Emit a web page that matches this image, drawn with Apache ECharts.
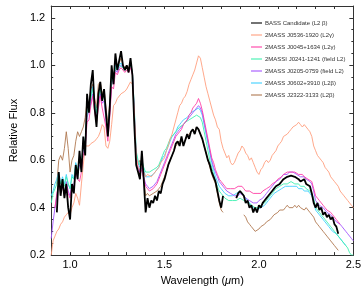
<!DOCTYPE html>
<html><head><meta charset="utf-8">
<script src="https://cdn.jsdelivr.net/npm/echarts@6/dist/echarts.min.js"></script>
<style>html,body{margin:0;padding:0;background:#fff}#c{width:364px;height:291px}</style>
</head><body><div id="c"></div>
<script>
// wavelength grid (µm), 0.90 .. 2.50 step 0.01
const wl = [];
for (let i = 0; i <= 160; i++) wl.push(+(0.90 + i * 0.01).toFixed(2));

const N = null;
const bass = [
 N,N,N,0.38,0.55,0.45,0.52,0.44,0.50,0.40,
 0.35,0.50,0.46,0.58,0.52,0.64,0.55,0.70,0.62,0.88,
 0.80,0.92,0.98,0.82,0.74,0.88,0.93,0.85,0.90,0.80,
 0.70,0.82,1.00,0.92,1.05,0.98,1.02,1.06,1.00,0.98,
 1.00,0.97,1.03,0.96,0.75,0.58,0.55,0.52,0.64,0.52,
 0.38,0.44,0.40,0.43,0.42,0.45,0.43,0.47,0.46,0.50,
 0.52,0.55,0.58,0.60,0.62,0.64,0.67,0.68,0.66,0.70,
 0.66,0.66,0.71,0.69,0.72,0.73,0.71,0.74,0.73,0.71,
 0.69,0.66,0.63,0.60,0.58,0.55,0.53,0.51,0.47,0.43,
 0.40,0.45,N,N,N,N,N,N,0.44,0.46,
 0.47,0.47,0.45,0.42,0.43,0.40,0.41,0.38,0.40,0.38,
 0.41,0.40,0.42,0.43,0.44,0.45,0.45,0.47,0.48,0.49,
 0.49,0.50,0.51,0.52,0.52,0.53,0.53,0.535,0.54,0.53,
 0.525,0.52,0.51,0.51,0.52,0.50,0.50,0.49,0.46,0.42,
 0.40,0.42,0.39,0.40,0.37,0.38,0.36,0.37,0.35,0.36,
 0.33,0.32,0.29,N,N,N,N,N,N,N,
 N];
const j0536 = [
 0.20,0.26,0.28,0.30,0.31,0.33,0.34,0.36,0.37,0.38,
 0.37,0.40,0.42,0.46,0.44,0.41,0.50,0.58,0.66,0.66,
 0.66,0.67,0.67,0.68,0.69,0.70,0.72,0.75,0.74,0.66,
 0.65,0.68,0.75,0.83,0.84,0.86,0.86,0.88,0.88,0.89,
 0.90,0.90,0.93,0.92,0.80,0.62,0.57,0.56,0.58,0.55,
 0.53,0.54,0.54,0.53,0.54,0.55,0.56,0.57,0.59,0.60,
 0.61,0.64,0.66,0.69,0.71,0.74,0.77,0.80,0.83,0.84,
 0.86,0.87,0.89,0.92,0.94,0.96,0.98,1.01,1.04,1.03,
 0.99,0.95,0.91,0.88,0.85,0.82,0.79,0.77,0.74,0.73,
 0.68,0.65,0.63,0.61,0.62,0.59,0.58,0.59,0.61,0.63,
 0.64,0.66,0.65,0.63,0.62,0.60,0.61,0.59,0.57,0.55,
 0.54,0.56,0.57,0.59,0.60,0.59,0.60,0.62,0.63,0.64,
 0.66,0.67,0.68,0.70,0.70,0.71,0.72,0.73,0.74,0.74,
 0.75,0.76,0.75,0.74,0.75,0.74,0.73,0.72,0.70,0.66,
 0.64,0.62,0.61,0.60,0.59,0.57,0.56,0.55,0.53,0.52,
 0.51,0.50,0.49,0.47,0.46,0.45,0.44,0.43,0.42,0.41,
 0.40];
const j0045 = [
 N,N,0.40,0.46,0.50,0.46,0.49,0.45,0.50,0.46,
 0.44,0.49,0.48,0.55,0.52,0.51,0.55,0.62,0.65,0.76,
 0.77,0.83,0.87,0.80,0.76,0.82,0.87,0.82,0.82,0.74,
 0.68,0.78,0.91,0.90,0.97,0.96,0.98,0.99,0.98,0.97,
 0.98,0.97,0.99,0.96,0.80,0.61,0.56,0.54,0.56,0.52,
 0.49,0.48,0.47,0.47,0.48,0.49,0.50,0.52,0.54,0.56,
 0.58,0.60,0.62,0.64,0.66,0.68,0.70,0.71,0.72,0.73,
 0.75,0.76,0.77,0.79,0.80,0.82,0.83,0.84,0.86,0.84,
 0.81,0.77,0.73,0.69,0.65,0.61,0.59,0.56,0.54,0.52,
 0.51,0.50,0.49,0.48,0.48,0.48,0.48,0.48,0.48,0.49,
 0.49,0.49,0.48,0.47,0.47,0.47,0.47,0.46,0.46,0.46,
 0.46,0.46,0.47,0.47,0.48,0.48,0.49,0.50,0.50,0.51,
 0.52,0.52,0.53,0.54,0.54,0.55,0.55,0.55,0.55,0.55,
 0.55,0.54,0.54,0.54,0.53,0.53,0.52,0.52,0.51,0.48,
 0.45,0.44,0.43,0.42,0.41,0.40,0.39,0.39,0.38,0.37,
 0.36,0.35,0.34,0.33,N,N,N,N,N,N,
 N];
const j0241 = [
 0.42,0.46,0.48,0.50,0.54,0.50,0.52,0.49,0.53,0.50,
 0.48,0.53,0.52,0.58,0.56,0.60,0.59,0.66,0.68,0.80,
 0.80,0.86,0.90,0.84,0.80,0.86,0.90,0.86,0.87,0.79,
 0.73,0.82,0.94,0.93,0.99,0.98,1.00,1.00,0.99,0.98,
 0.99,0.98,1.00,0.97,0.82,0.64,0.60,0.58,0.60,0.57,
 0.55,0.55,0.55,0.55,0.56,0.56,0.57,0.58,0.60,0.62,
 0.64,0.65,0.67,0.69,0.70,0.71,0.72,0.73,0.74,0.74,
 0.75,0.76,0.76,0.77,0.77,0.78,0.78,0.79,0.79,0.78,
 0.76,0.72,0.68,0.64,0.60,0.57,0.54,0.51,0.49,0.47,
 0.46,0.45,0.44,0.44,0.43,0.43,0.43,0.43,0.43,0.43,
 0.44,0.44,0.43,0.43,0.42,0.42,0.41,0.41,0.40,0.40,
 0.40,0.41,0.41,0.42,0.43,0.44,0.45,0.46,0.47,0.48,
 0.48,0.49,0.49,0.50,0.50,0.50,0.50,0.51,0.51,0.50,
 0.50,0.50,0.49,0.49,0.49,0.48,0.48,0.47,0.46,0.44,
 0.40,0.40,0.38,0.38,0.36,0.35,0.34,0.33,0.32,0.31,
 0.30,0.29,0.28,0.27,0.26,0.25,0.24,0.23,0.21,0.20,
 0.20];
const j0205 = [
 0.27,0.34,0.40,0.45,0.50,0.47,0.50,0.46,0.51,0.47,
 0.45,0.50,0.49,0.56,0.54,0.58,0.56,0.64,0.66,0.78,
 0.78,0.84,0.88,0.82,0.78,0.84,0.88,0.84,0.85,0.77,
 0.70,0.80,0.92,0.92,0.98,0.97,0.99,1.00,0.99,0.98,
 0.99,0.98,1.00,0.97,0.80,0.62,0.57,0.55,0.57,0.53,
 0.50,0.49,0.48,0.48,0.49,0.50,0.51,0.53,0.55,0.57,
 0.59,0.61,0.63,0.65,0.67,0.69,0.71,0.72,0.73,0.74,
 0.75,0.76,0.77,0.78,0.79,0.80,0.81,0.82,0.83,0.82,
 0.80,0.76,0.72,0.68,0.64,0.60,0.57,0.55,0.53,0.51,
 0.50,0.49,0.48,0.47,0.47,0.46,0.46,0.45,0.45,0.45,
 0.46,0.46,0.45,0.44,0.44,0.43,0.43,0.42,0.42,0.42,
 0.43,0.43,0.44,0.45,0.46,0.47,0.48,0.49,0.50,0.51,
 0.51,0.52,0.53,0.54,0.54,0.54,0.55,0.55,0.55,0.55,
 0.54,0.54,0.53,0.53,0.53,0.52,0.52,0.51,0.50,0.47,
 0.43,0.43,0.41,0.41,0.40,0.39,0.38,0.38,0.37,0.36,
 0.35,0.34,0.34,0.33,0.32,0.31,0.30,0.29,0.28,0.27,
 0.26];
const j0602 = [
 0.45,0.47,0.50,0.52,0.55,0.50,0.53,0.50,0.54,0.50,
 0.48,0.54,0.52,0.59,0.56,0.61,0.58,0.67,0.68,0.81,
 0.80,0.87,0.91,0.84,0.80,0.86,0.90,0.86,0.87,0.79,
 0.73,0.82,0.95,0.93,1.00,0.98,1.00,1.01,0.99,0.98,
 0.99,0.98,1.00,0.97,0.81,0.63,0.59,0.57,0.59,0.56,
 0.53,0.53,0.53,0.53,0.54,0.55,0.56,0.57,0.59,0.61,
 0.62,0.64,0.66,0.68,0.70,0.71,0.72,0.74,0.75,0.76,
 0.77,0.77,0.78,0.79,0.80,0.80,0.81,0.81,0.82,0.81,
 0.79,0.75,0.71,0.67,0.63,0.59,0.56,0.53,0.51,0.49,
 0.48,0.47,0.46,0.46,0.45,0.45,0.45,0.45,0.46,0.46,
 0.47,0.46,0.45,0.44,0.43,0.42,0.41,0.40,0.40,0.39,
 0.39,0.40,0.40,0.41,0.42,0.43,0.44,0.45,0.46,0.46,
 0.47,0.47,0.48,0.48,0.49,0.49,0.49,0.49,0.49,0.49,
 0.49,0.48,0.48,0.48,0.47,0.47,0.47,0.46,0.45,0.43,
 0.39,0.39,0.37,0.37,0.35,0.34,0.33,0.32,0.31,0.30,
 0.30,0.29,0.28,0.27,0.26,0.25,0.24,N,N,N,
 N];
const j2322 = [
 N,N,N,0.50,0.60,0.62,0.60,0.65,0.72,0.65,
 0.55,0.60,0.62,0.68,0.72,0.70,0.72,0.74,0.78,0.85,
 0.84,0.90,0.92,0.86,0.82,0.92,0.93,0.88,0.90,0.82,
 0.76,0.84,0.96,0.94,1.02,0.99,1.01,1.03,1.00,0.99,
 1.00,0.99,1.01,0.97,0.78,0.60,0.58,0.60,0.58,0.52,
 0.45,0.46,0.45,0.45,0.46,0.46,0.47,0.48,0.49,0.51,
 0.53,0.55,0.58,0.60,0.62,0.64,0.66,0.67,0.67,0.69,
 0.67,0.67,0.70,0.70,0.72,0.73,0.72,0.74,0.73,0.71,
 0.69,0.66,0.63,0.60,0.57,0.54,0.52,0.50,0.46,0.42,
 0.39,0.38,N,N,N,N,N,N,N,N,
 N,N,0.37,0.36,0.34,0.33,0.32,0.31,0.30,0.30,
 0.31,0.32,0.32,0.33,0.34,0.34,0.35,0.36,0.37,0.37,
 0.38,0.39,0.39,0.39,0.40,0.41,0.40,0.40,0.40,0.41,
 0.40,0.41,0.40,0.40,0.39,0.40,0.39,0.38,0.38,0.36,
 0.34,0.33,0.32,0.31,0.30,0.29,0.28,0.28,0.26,0.26,
 0.24,0.23,0.22,N,N,N,N,N,N,N,
 N];

const names = [
  'BASS Candidate (L2 β)',
  '2MASS J0536-1920 (L2γ)',
  '2MASS J0045+1634 (L2γ)',
  '2MASSI J0241-1241 (field L2)',
  '2MASS J0205-0759 (field L2)',
  '2MASS J0602+3910 (L2β)',
  '2MASS J2322-3133 (L2β)'
];
const colors = ['#000000','#ff9e7e','#ff3fa6','#3ff0b0','#a455ff','#3fd0ff','#b07850'];
const arrays = [bass, j0536, j0045, j0241, j0205, j0602, j2322];

const toData = a => wl.map((x, i) => [x, a[i] === null ? '-' : a[i]]);
const series = [];
// comparison spectra first, BASS candidate drawn on top
for (let k = arrays.length - 1; k >= 0; k--) {
  series.push({
    name: names[k], type: 'line', data: toData(arrays[k]),
    symbol: 'none', connectNulls: false, silent: true,
    lineStyle: { color: colors[k], width: k === 0 ? 1.8 : 0.9 },
    itemStyle: { color: colors[k] },
    z: k === 0 ? 10 : 2
  });
}

const axisCol = '#333';
const font = 'Liberation Sans, Arial, sans-serif';
const xCommon = {
  type: 'value', min: 0.9, max: 2.5, interval: 0.1,
  axisLine: { show: true, lineStyle: { color: axisCol, width: 1 } },
  axisTick: { show: true, inside: true, length: 3, lineStyle: { color: axisCol } },
  splitLine: { show: false }
};
const yCommon = {
  type: 'value', min: 0.2, max: 1.25, interval: 0.2,
  axisLine: { show: true, lineStyle: { color: axisCol, width: 1 } },
  axisTick: { show: true, inside: true, length: 4, lineStyle: { color: axisCol } },
  minorTick: { show: true, splitNumber: 4, length: 2, lineStyle: { color: axisCol } },
  splitLine: { show: false }
};

const chart = echarts.init(document.getElementById('c'), null, { renderer: 'canvas' });
chart.setOption({
  animation: false,
  backgroundColor: '#fff',
  grid: { left: 43, right: 9, top: 6, bottom: 29 },
  legend: {
    orient: 'vertical', left: 246, top: 15,
    itemWidth: 11, itemHeight: 6, itemGap: 6,
    icon: 'path://M0,0 L10,0 L10,1 L0,1 Z',
    data: names,
    textStyle: { fontSize: 6, color: '#333', fontFamily: font, padding: [0,0,0,-2] }
  },
  xAxis: [
    Object.assign({}, xCommon, {
      position: 'bottom',
      name: 'Wavelength ({i|μ}m)', nameLocation: 'middle', nameGap: 14,
      nameTextStyle: { fontSize: 11, color: '#000', fontFamily: font,
        rich: { i: { fontStyle: 'italic', fontSize: 11, fontFamily: font } } },
      axisLabel: { show: true, margin: 4, fontSize: 11, color: '#000', fontFamily: font,
        formatter: v => (Math.abs(v * 2 - Math.round(v * 2)) < 1e-6) ? v.toFixed(1) : '' }
    }),
    Object.assign({}, xCommon, { position: 'top', axisLabel: { show: false } })
  ],
  yAxis: [
    Object.assign({}, yCommon, {
      position: 'left',
      name: 'Relative Flux', nameLocation: 'middle', nameGap: 29, nameRotate: 90,
      nameTextStyle: { fontSize: 11, color: '#000', fontFamily: font },
      axisLabel: { show: true, margin: 6, fontSize: 11, color: '#000', fontFamily: font,
        formatter: v => (Math.abs(v * 5 - Math.round(v * 5)) < 1e-6) ? v.toFixed(1) : '' }
    }),
    Object.assign({}, yCommon, { position: 'right', axisLabel: { show: false } })
  ],
  series: series
});
</script></body></html>
